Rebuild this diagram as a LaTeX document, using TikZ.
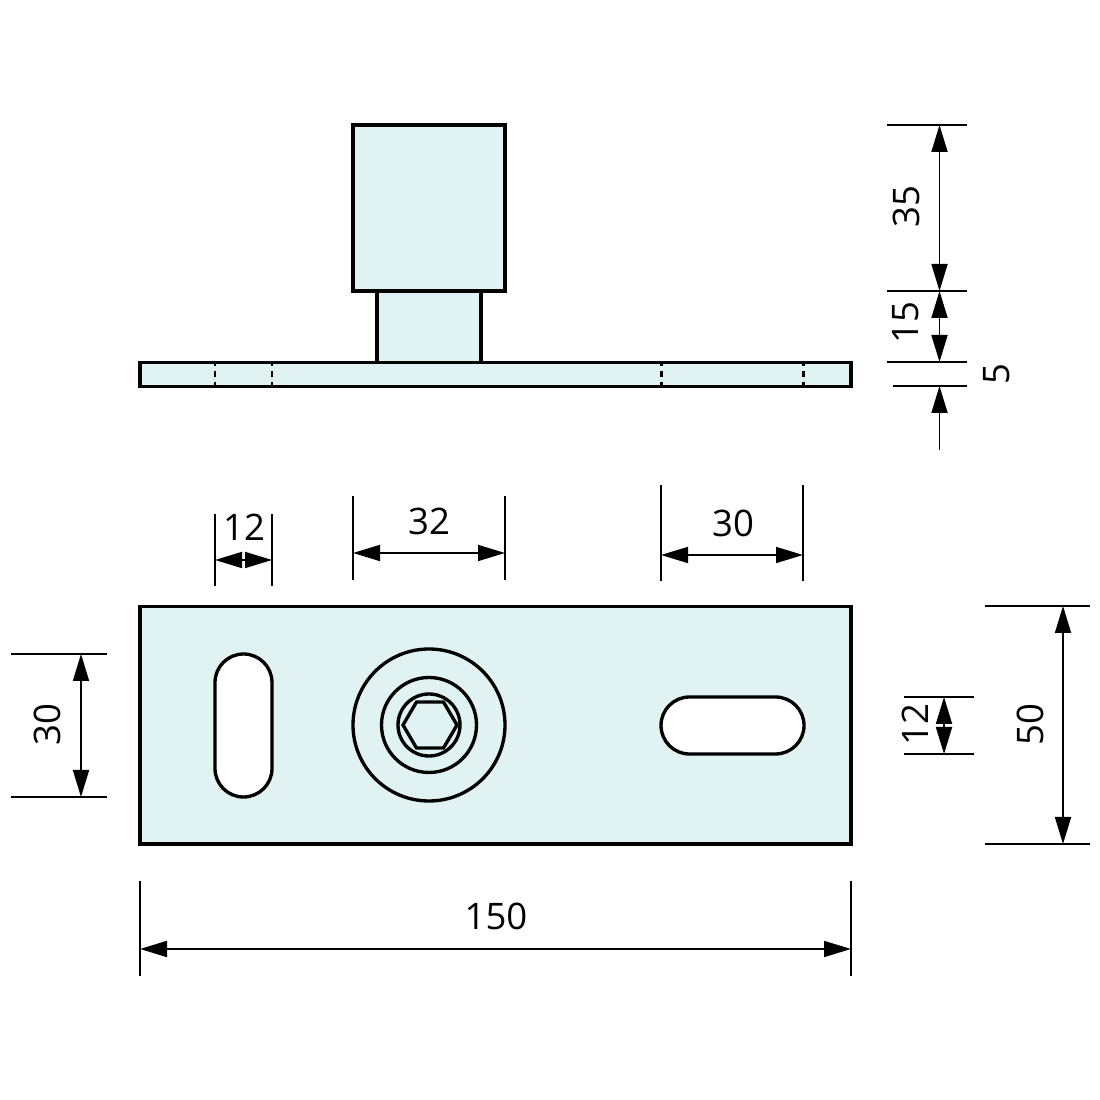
\documentclass[tikz,border=0pt]{standalone}
\usepackage{fontspec}
\setmainfont{Open Sans}
\usetikzlibrary{arrows.meta}
\definecolor{platefill}{RGB}{224,242,242}
\tikzset{
  part/.style={draw=black,line width=0.95pt,fill=platefill},
  hole/.style={draw=black,line width=0.95pt,fill=white,rounded corners=2.85mm},
  ring/.style={draw=black,line width=0.95pt},
  extline/.style={draw=black,line width=0.5pt},
  dimline/.style={draw=black,line width=0.5pt,<->},
  dimend/.style={draw=black,line width=0.5pt,<-},
  hidden/.style={draw=black,line width=0.85pt,dash pattern=on 0.06cm off 0.05cm,dash phase=0.02cm},
  dimtext/.style={font=\fontsize{10.4}{12}\selectfont,inner sep=0pt}
}
\begin{document}
\begin{tikzpicture}[>={Triangle[length=0.27cm,width=0.16cm]}]
	\useasboundingbox (0,0) rectangle (11,11);
	% side view
	\draw[part] (3.53,8.09) rectangle (5.05,9.75);
	\draw[part] (3.77,7.375) rectangle (4.81,8.09);
	\draw[part] (1.40,7.135) rectangle (8.51,7.375);
	\foreach \x in {2.15,2.72,6.61,8.03}
		\draw[hidden] (\x,7.375) -- (\x,7.135);
	% front view
	\draw[part] (1.40,2.56) rectangle (8.51,4.935);
	\draw[hole] (2.15,3.03) rectangle (2.72,4.46);
	\draw[hole] (6.61,3.46) rectangle (8.04,4.03);
	\draw[ring] (4.29,3.75) circle (0.76);
	\draw[ring] (4.29,3.75) circle (0.475);
	\draw[ring] (4.29,3.75) circle (0.31);
	\draw[ring] (4.03,3.75) -- (4.165,3.98) -- (4.435,3.98) -- (4.57,3.75) -- (4.435,3.52) -- (4.165,3.52) -- cycle;
	% extension lines, right of side view
	\draw[extline] (8.87,9.75) -- (9.67,9.75);
	\draw[extline] (8.87,8.09) -- (9.67,8.09);
	\draw[extline] (8.87,7.38) -- (9.67,7.38);
	\draw[extline] (8.93,7.14) -- (9.67,7.14);
	% extension lines, above front view
	\foreach \x in {2.15,2.72} \draw[extline] (\x,5.86) -- (\x,5.14);
	\foreach \x in {3.53,5.05} \draw[extline] (\x,6.04) -- (\x,5.20);
	\foreach \x in {6.61,8.03} \draw[extline] (\x,6.15) -- (\x,5.19);
	% extension lines, beside and below front view
	\foreach \y in {4.46,3.03} \draw[extline] (0.11,\y) -- (1.07,\y);
	\foreach \y in {4.03,3.46} \draw[extline] (9.04,\y) -- (9.74,\y);
	\foreach \y in {4.94,2.56} \draw[extline] (9.85,\y) -- (10.90,\y);
	\foreach \x in {1.40,8.51} \draw[extline] (\x,2.19) -- (\x,1.24);
	% dimension ends
	\coordinate (topA) at (9.395,9.75);
	\coordinate (topB) at (9.395,8.09);
	\coordinate (neckB) at (9.395,7.38);
	\coordinate (plateB) at (9.395,7.14);
	\coordinate (plateC) at (9.395,6.50);
	\coordinate (slotL) at (2.15,5.40);
	\coordinate (slotR) at (2.72,5.40);
	\coordinate (headL) at (3.53,5.47);
	\coordinate (headR) at (5.05,5.47);
	\coordinate (longL) at (6.61,5.45);
	\coordinate (longR) at (8.03,5.45);
	\coordinate (leftT) at (0.81,4.46);
	\coordinate (leftB) at (0.81,3.03);
	\coordinate (widthT) at (9.44,4.03);
	\coordinate (widthB) at (9.44,3.46);
	\coordinate (highT) at (10.63,4.94);
	\coordinate (highB) at (10.63,2.56);
	\coordinate (allL) at (1.40,1.51);
	\coordinate (allR) at (8.51,1.51);
	% dimension arrows
	\draw[dimline] (topA) -- (topB);
	\draw[dimline] (topB) -- (neckB);
	\draw[dimend] (plateB) -- (plateC);
	\draw[dimline] (slotL) -- (slotR);
	\draw[dimline] (headL) -- (headR);
	\draw[dimline] (longL) -- (longR);
	\draw[dimline] (leftT) -- (leftB);
	\draw[dimline] (widthT) -- (widthB);
	\draw[dimline] (highT) -- (highB);
	\draw[dimline] (allL) -- (allR);
	% dimension values
	\node[dimtext,rotate=90] (valTop) at (9.06,8.93) {35};
	\node[dimtext,rotate=90] (valNeck) at (9.06,7.77) {15};
	\node[dimtext,rotate=90] (valPlate) at (9.97,7.26) {5};
	\node[dimtext] (valSlot) at (2.44,5.73) {12};
	\node[dimtext] (valHead) at (4.29,5.79) {32};
	\node[dimtext] (valLong) at (7.33,5.77) {30};
	\node[dimtext,rotate=90] (valLeft) at (0.47,3.75) {30};
	\node[dimtext,rotate=90] (valWidth) at (9.15,3.75) {12};
	\node[dimtext,rotate=90] (valHigh) at (10.30,3.75) {50};
	\node[dimtext] (valAll) at (4.96,1.84) {150};
\end{tikzpicture}
\end{document}
